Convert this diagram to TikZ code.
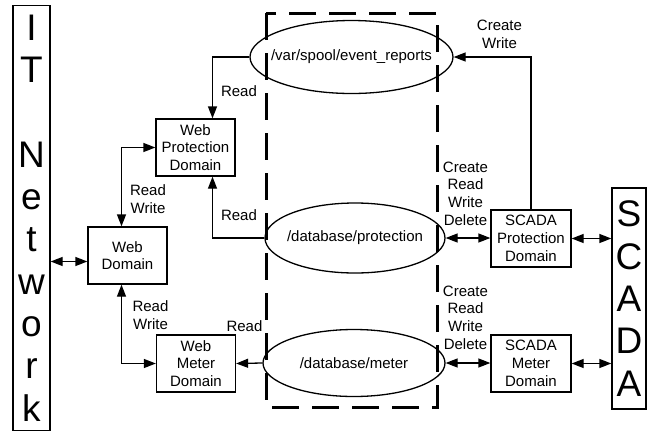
\documentclass[tikz,border=0pt]{standalone}
\usepackage{fontspec}
\setmainfont{Liberation Sans}
\usetikzlibrary{arrows.meta,shapes.geometric}

\begin{document}
\begin{tikzpicture}
    [x=1pt, y=-1pt,
    %Option for filled arrows
    >={Triangle[length=12pt,width=9pt]}, %
    line width=1.3pt, inner sep=0pt,%
    dombox/.style={draw,minimum width=79pt,minimum height=57pt,align=center,
        font=\fontsize{15}{17.7}\selectfont},
    filenode/.style 2 args={draw,ellipse,minimum width=#1,minimum height=#2,
        font=\fontsize{15}{17.7}\selectfont},
    netbox/.style={draw,minimum width=37pt,align=center,
        font=\fontsize{37}{42.3}\selectfont},
    permlabel/.style={align=center,font=\fontsize{15}{17.7}\selectfont},
    partline/.style={line width=3pt,dash pattern=on 27pt off 13pt}]

    \useasboundingbox (0,0) rectangle (649,432);

    % Networks
    \node[netbox,minimum height=425pt] (it) at (31.5,218) {I\\T\\~\\N\\e\\t\\w\\o\\r\\k};
    \node[netbox,minimum width=34pt,minimum height=221pt] (scada) at (629,298.5) {S\\C\\A\\D\\A};

    % Domains
    \node[dombox] (wpd)  at (195.5,147.5) {Web\\Protection\\Domain};
    \node[dombox] (webd) at (127.5,255.5) {Web\\Domain};
    \node[dombox] (wmd)  at (196,363.5)   {Web\\Meter\\Domain};
    \node[dombox,minimum width=80pt] (spd) at (531,238.5) {SCADA\\Protection\\Domain};
    \node[dombox,minimum width=80pt] (smd) at (531,363.5) {SCADA\\Meter\\Domain};

    % Files
    \node[filenode={203pt}{73pt}] (spool) at (351.5,57) {\makebox[0pt]{/var/spool/event\_reports}};
    \node[filenode={180pt}{70pt}] (prot)  at (355,238)  {\makebox[0pt]{/database/protection}};
    \node[filenode={182pt}{67pt}] (meter) at (354,363)  {\makebox[0pt]{/database/meter}};

    % Shared store
    \draw[partline] (266,13) rectangle (437,407);

    % Web side
    \draw[->] (spool.west) -| ([xshift=17pt]wpd.north);
    \draw[->] (prot.west) -| ([xshift=17pt]wpd.south);
    \draw[<->] ([xshift=-6pt]webd.north) |- (wpd.west);
    \draw[<->] ([xshift=-6pt]webd.south) |- (wmd.west);
    \draw[->] (meter.west) -- (wmd.east);
    \coordinate (itport) at ([yshift=-6pt]webd.west);
    \draw[<->] (itport -| it.east) -- (itport);

    % SCADA side
    \draw[->] (spd.north) |- (spool.east);
    \draw[<->] (prot.east) -- (prot.east -| spd.west);
    \draw[<->] (spd.east) -- (spd.east -| scada.west);
    \draw[<->] (meter.east) -- (meter.east -| smd.west);
    \draw[<->] (smd.east) -- (smd.east -| scada.west);

    % Access rights
    \node[permlabel] (rdspool) at (239,91)     {Read};
    \node[permlabel] (rdprot)  at (239,215)    {Read};
    \node[permlabel] (rwprot)  at (148,199)    {Read\\Write};
    \node[permlabel] (rwmeter) at (150.5,315)  {Read\\Write};
    \node[permlabel] (rdmeter) at (244.5,326)  {Read};
    \node[permlabel] (cwspool) at (499.5,34)   {Create\\Write};
    \node[permlabel] (crudp)   at (465.5,193.5) {Create\\Read\\Write\\Delete};
    \node[permlabel] (crudm)   at (465.5,317.5) {Create\\Read\\Write\\Delete};

\end{tikzpicture}
\end{document}
